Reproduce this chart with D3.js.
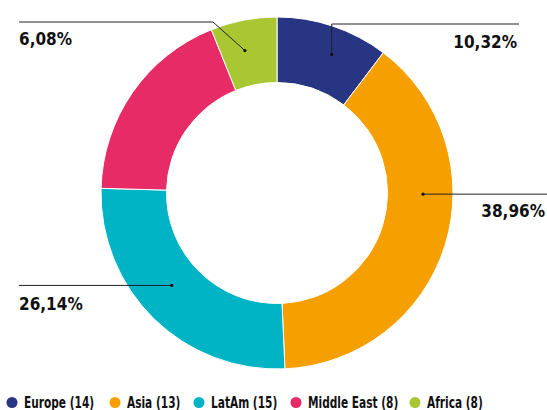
<!DOCTYPE html>
<html>
<head>
<meta charset="utf-8">
<script src="https://cdn.jsdelivr.net/npm/d3@7"></script>
<style>
  body { margin: 0; background: #fff; }
  svg { display: block; }
  .pct { font-family: "DejaVu Sans Condensed", "DejaVu Sans", sans-serif; font-weight: bold; font-size: 17px; fill: #111; }
  .leg { font-family: "DejaVu Sans Condensed", "DejaVu Sans", sans-serif; font-weight: bold; font-size: 15.5px; fill: #111; }
</style>
</head>
<body>
<div id="chart"></div>
<script>
// data
var regions = ["Europe", "Asia", "LatAm", "Middle East", "Africa"];
var counts = [14, 13, 15, 8, 8];
var shares = [10.32, 38.96, 26.14, 18.50, 6.08];
var labelText = ["10,32%", "38,96%", "26,14%", "", "6,08%"];
var colors = ["#283583", "#f59f00", "#00b4c5", "#e62b66", "#a8c733"];

var width = 547, height = 410;
var cx = 277, cy = 193, outerR = 176, innerR = 110.5;

var svg = d3.select("#chart").append("svg")
    .attr("width", width)
    .attr("height", height);

var g = svg.append("g").attr("transform", "translate(" + cx + "," + cy + ")");

var pie = d3.pie().sort(null).value(function(d) { return d; });
var arcs = pie(shares);

var arc = d3.arc().innerRadius(innerR).outerRadius(outerR);

g.selectAll("path")
  .data(arcs)
  .enter()
  .append("path")
    .attr("d", arc)
    .attr("fill", function(d, i) { return colors[i]; })
    .attr("stroke", "#fff")
    .attr("stroke-width", 1);

// leader lines (layout only)
var leaders = [
  {i: 0, frac: 0.58, r: 149, path: function(p) { return [p, [p[0], 24 - cy], [519 - cx, 24 - cy]]; }, lx: 517, ly: 48, anchor: "end"},
  {i: 1, frac: 0.38, r: 146, path: function(p) { return [p, [547 - cx, p[1]]]; }, lx: 545, ly: 217, anchor: "end"},
  {i: 2, frac: 0.545, r: 140, path: function(p) { return [p, [19 - cx, p[1]]]; }, lx: 19, ly: 310, anchor: "start"},
  {i: 4, frac: 0.42, r: 146, path: function(p) { return [p, [213 - cx, 22 - cy], [19 - cx, 22 - cy]]; }, lx: 19, ly: 45, anchor: "start"}
];

leaders.forEach(function(l) {
  var a = arcs[l.i];
  var ang = a.startAngle + l.frac * (a.endAngle - a.startAngle);
  var p = [l.r * Math.sin(ang), -l.r * Math.cos(ang)];
  g.append("path")
    .attr("d", d3.line()(l.path(p)))
    .attr("fill", "none")
    .attr("stroke", "#222")
    .attr("stroke-width", 1);
  g.append("circle")
    .attr("cx", p[0]).attr("cy", p[1])
    .attr("r", 1.6)
    .attr("fill", "#111");
  svg.append("text")
    .attr("class", "pct")
    .attr("x", l.lx)
    .attr("y", l.ly)
    .attr("text-anchor", l.anchor)
    .attr("transform", "scale(1,1)")
    .text(labelText[l.i]);
});

// legend
var legX = [12, 115, 199, 296, 415];
var leg = svg.selectAll(".legitem")
  .data(regions)
  .enter()
  .append("g")
    .attr("class", "legitem")
    .attr("transform", function(d, i) { return "translate(" + legX[i] + ",402.5)"; });

leg.append("circle")
  .attr("r", 5.5)
  .attr("fill", function(d, i) { return colors[i]; });

// the original face is a narrow one, squeeze the text horizontally
leg.append("text")
  .attr("class", "leg")
  .attr("transform", "translate(12,5.5) scale(0.76,1)")
  .text(function(d, i) { return d + " (" + counts[i] + ")"; });
</script>
</body>
</html>
